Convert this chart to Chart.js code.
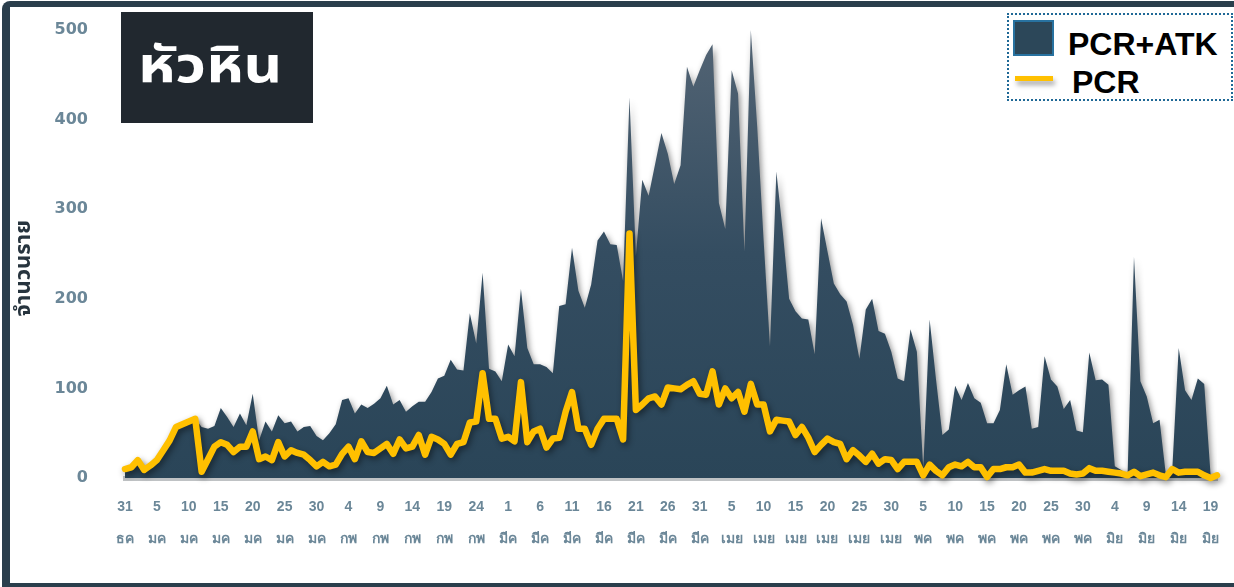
<!DOCTYPE html>
<html>
<head>
<meta charset="utf-8">
<script src="https://cdn.jsdelivr.net/npm/chart.js@4.4.0/dist/chart.umd.min.js"></script>
<style>
  html, body { margin: 0; padding: 0; background: #fff; }
  #wrap { position: relative; width: 1234px; height: 587px; overflow: hidden; background: #fff; }
  #frame { position: absolute; left: 2px; top: 1px; width: 1250px; height: 586px; box-sizing: border-box;
           border-left: 8px solid #2a3e4c; border-top: 6px solid #2a3e4c; border-bottom: 4px solid #2a3e4c;
           border-top-left-radius: 8px; }
  #c { position: absolute; left: 0; top: 0; }
  #title { position: absolute; left: 121px; top: 12px; width: 192px; height: 111px; background: #21282f; }
  #titleText { position: absolute; left: 17px; top: 25px; color: #fff; font-weight: bold; font-size: 50px; line-height: 60px;
               font-family: "Noto Sans Thai", "Noto Sans", "DejaVu Sans", sans-serif; white-space: nowrap;
               transform: scaleX(1.2); transform-origin: 0 0; }
  #legend { position: absolute; left: 1007px; top: 13px; width: 226px; height: 88px; box-sizing: border-box;
            border: 2.5px dotted #1f6896; background: #fff; }
  .lg { position: absolute; font-family: "Liberation Sans", Arial, sans-serif; font-weight: bold; font-size: 32px;
        line-height: 32px; color: #000; white-space: nowrap; }
  #swBox { position: absolute; left: 1013px; top: 20px; width: 41px; height: 36px; box-sizing: border-box;
           border: 2px solid #2872a0; background: #2c4759; }
  #swLine { position: absolute; left: 1015px; top: 76px; width: 38px; height: 5px; background: #ffc000;
            box-shadow: 2px 4px 5px rgba(0,0,0,0.35); }
</style>
</head>
<body>
<div id="wrap">
  <div id="frame"></div>
  <canvas id="c" width="1234" height="587"></canvas>
  <div id="title"><div id="titleText">หัวหิน</div></div>
  <div id="legend"></div>
  <div id="swBox"></div>
  <div class="lg" style="left:1068px; top:28px;">PCR+ATK</div>
  <div id="swLine"></div>
  <div class="lg" style="left:1072px; top:66px;">PCR</div>
</div>
<script>
// PCR+ATK daily cases, 31 Dec -> 20 Jun
const pcrAtk = [
  10, 12, 20, 10, 16, 22, 31, 42, 57, 61,
  63, 66, 57, 55, 58, 78, 68, 57, 72, 59,
  94, 42, 63, 52, 70, 61, 63, 52, 57, 58,
  47, 42, 50, 60, 87, 89, 72, 82, 78, 83,
  89, 103, 82, 87, 74, 80, 85, 85, 96, 111,
  114, 132, 121, 120, 184, 150, 229, 122, 119, 108,
  149, 136, 211, 145, 127, 127, 124, 117, 192, 194,
  257, 209, 190, 216, 265, 275, 261, 260, 220, 425,
  248, 333, 315, 350, 385, 362, 328, 349, 459, 437,
  455, 472, 484, 307, 278, 455, 429, 253, 500, 392,
  266, 147, 342, 275, 200, 186, 178, 177, 138, 290,
  253, 217, 205, 197, 171, 133, 188, 200, 164, 161,
  141, 111, 108, 166, 141, 10, 177, 110, 48, 54,
  103, 87, 106, 89, 84, 61, 61, 76, 127, 93,
  98, 102, 55, 57, 136, 110, 102, 77, 87, 53,
  51, 140, 109, 110, 104, 13, 9, 4, 247, 108,
  91, 61, 65, 3, 10, 145, 98, 87, 111, 105,
  3, 3
];
// PCR daily cases
const pcr = [
  10, 12, 20, 9, 14, 20, 31, 42, 57, 60,
  63, 66, 7, 21, 35, 40, 37, 29, 35, 35,
  52, 21, 24, 20, 40, 24, 31, 28, 26, 20,
  13, 18, 13, 15, 27, 35, 21, 41, 29, 28,
  33, 38, 27, 43, 33, 35, 48, 26, 46, 43,
  38, 26, 38, 40, 62, 63, 117, 66, 66, 44,
  46, 41, 107, 40, 52, 55, 34, 44, 45, 74,
  96, 55, 55, 37, 55, 66, 66, 66, 43, 273,
  76, 82, 89, 91, 82, 101, 100, 99, 104, 108,
  94, 93, 119, 82, 100, 89, 96, 74, 105, 82,
  82, 52, 65, 64, 63, 48, 57, 45, 29, 37,
  44, 40, 38, 21, 31, 25, 18, 27, 16, 21,
  20, 10, 18, 18, 18, 3, 15, 8, 3, 12,
  15, 13, 18, 12, 12, 1, 10, 10, 12, 12,
  15, 6, 6, 8, 10, 8, 8, 8, 5, 4,
  5, 11, 8, 8, 7, 6, 5, 3, 7, 2,
  4, 6, 3, 1, 10, 6, 7, 7, 7, 3,
  0, 3
];
// Thai month abbreviations (Jan..Dec)
const monthAbbr = ['มค', 'กพ', 'มีค', 'เมย', 'พค', 'มิย', 'กค', 'สค', 'กย', 'ตค', 'พย', 'ธค'];
const yTicks = [0, 100, 200, 300, 400, 500];
const tickEvery = 5;
const yTitle = 'จำนวนราย';

// categories: one per day starting 31 Dec
const categories = pcrAtk.map((_, i) => {
  const d = new Date(2021, 11, 31 + i);
  return d.getDate() + ' ' + monthAbbr[d.getMonth()];
});

const shadowPlugin = {
  id: 'shadow',
  beforeDatasetsDraw(chart) {
    const c = chart.ctx;
    c.save();
    c.shadowColor = 'rgba(0,0,0,0.45)';
    c.shadowBlur = 6;
    c.shadowOffsetX = 2;
    c.shadowOffsetY = 3;
  },
  afterDatasetsDraw(chart) { chart.ctx.restore(); }
};

function areaGradient(ctx) {
  const chart = ctx.chart;
  const a = chart.chartArea;
  if (!a) return '#2b4659';
  const g = chart.ctx.createLinearGradient(0, a.bottom, 0, a.top);
  g.addColorStop(0, '#2a4558');
  g.addColorStop(0.5, '#344d61');
  g.addColorStop(1, '#536474');
  return g;
}

new Chart(document.getElementById('c'), {
  type: 'line',
  data: {
    labels: categories,
    datasets: [
      { label: 'PCR', data: pcr, borderColor: '#ffc000', borderWidth: 6.5, pointRadius: 0, tension: 0,
        fill: false, order: 0, borderJoinStyle: 'round', borderCapStyle: 'round', clip: false },
      { label: 'PCR+ATK', data: pcrAtk, borderColor: 'rgba(0,0,0,0)', borderWidth: 1, pointRadius: 0, tension: 0,
        fill: 'origin', backgroundColor: areaGradient, order: 1, clip: false }
    ]
  },
  options: {
    responsive: false,
    animation: false,
    layout: { padding: { left: 8, right: 17, top: 30, bottom: 32 } },
    plugins: { legend: { display: false }, tooltip: { enabled: false } },
    scales: {
      x: {
        afterFit: (axis) => { axis.height = 77; },
        grid: { display: false, drawTicks: false },
        border: { display: true, color: '#bfc2c4', width: 5 },
        ticks: {
          autoSkip: false, maxRotation: 0, minRotation: 0, padding: 13, color: '#6b8798',
          font: { family: '"Liberation Sans", Arial, sans-serif', weight: 'bold', size: 14, lineHeight: 32 / 14 },
          callback: function (value, index) {
            if (index % tickEvery !== 0) return '';
            return this.getLabelForValue(value).split(' ');
          }
        }
      },
      y: {
        min: yTicks[0], max: yTicks[yTicks.length - 1],
        afterBuildTicks: (axis) => { axis.ticks = yTicks.map(v => ({ value: v })); },
        afterFit: (axis) => { axis.width = 117; axis.paddingTop = 10; axis.paddingBottom = 10; },
        grid: { display: false, drawTicks: false },
        border: { display: false },
        ticks: { padding: 37, color: '#6b8798', font: { family: '"DejaVu Sans", sans-serif', weight: 'bold', size: 16 } },
        title: { display: true, text: yTitle + '     ', color: '#27343e',
                 font: { family: '"Noto Sans Thai", "Liberation Sans", sans-serif', weight: 'bold', size: 22, lineHeight: 1.2 },
                 padding: { top: 4, bottom: 10 } }
      }
    }
  },
  plugins: [shadowPlugin]
});
</script>
</body>
</html>
